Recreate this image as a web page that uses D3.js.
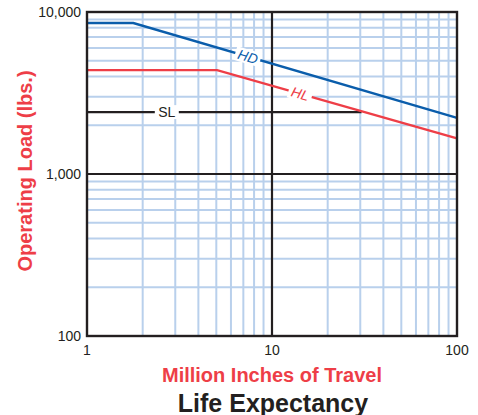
<!DOCTYPE html>
<html><head><meta charset="utf-8">
<script src="https://cdn.jsdelivr.net/npm/d3@7"></script>
<style>html,body{margin:0;padding:0;background:#fff;}svg{display:block;}</style>
</head><body>
<svg id="c" width="478" height="415"></svg>
<script>
const xTicks = [1, 10, 100];
const yTicks = [100, 1000, 10000];
const hdTravel = [1, 1.78, 100];
const hdLoad = [8550, 8550, 2220];
const hlTravel = [1, 5.05, 100];
const hlLoad = [4380, 4380, 1660];
const slTravel = [1, 30.5];
const slLoad = [2410, 2410];
const seriesNames = ["HD", "HL", "SL"];
const xTitle = "Million Inches of Travel";
const yTitle = "Operating Load (lbs.)";
const chartTitle = "Life Expectancy";

const svg = d3.select("#c");
const L = 87, R = 457, T = 12, B = 336;
const x = d3.scaleLog().domain([1, 100]).range([L, R]);
const y = d3.scaleLog().domain([100, 10000]).range([B, T]);
const font = "Helvetica, Arial, 'Liberation Sans', sans-serif";
const gridC = "#b9d0ec", blue = "#0a5dab", red = "#ee3e47", ink = "#231f20";

// minor grid
const minorX = [], minorY = [];
[1, 10].forEach(d => { for (let k = 2; k <= 9; k++) minorX.push(d * k); });
[100, 1000].forEach(d => { for (let k = 2; k <= 9; k++) minorY.push(d * k); });
svg.append("g").selectAll("line").data(minorX).join("line")
  .attr("x1", d => x(d)).attr("x2", d => x(d)).attr("y1", T).attr("y2", B)
  .attr("stroke", gridC).attr("stroke-width", 2);
svg.append("g").selectAll("line").data(minorY).join("line")
  .attr("x1", L).attr("x2", R).attr("y1", d => y(d)).attr("y2", d => y(d))
  .attr("stroke", gridC).attr("stroke-width", 2);
// major grid
svg.append("line").attr("x1", x(10)).attr("x2", x(10)).attr("y1", T).attr("y2", B)
  .attr("stroke", ink).attr("stroke-width", 2.2);
svg.append("line").attr("x1", L).attr("x2", R).attr("y1", y(1000)).attr("y2", y(1000))
  .attr("stroke", ink).attr("stroke-width", 2.2);

const line = d3.line().x(d => x(d[0])).y(d => y(d[1]));
const mk = (a, b) => a.map((v, i) => [v, b[i]]);
svg.append("path").attr("d", line(mk(slTravel, slLoad))).attr("fill", "none").attr("stroke", ink).attr("stroke-width", 2.2);
svg.append("path").attr("d", line(mk(hlTravel, hlLoad))).attr("fill", "none").attr("stroke", red).attr("stroke-width", 2.4);
svg.append("path").attr("d", line(mk(hdTravel, hdLoad))).attr("fill", "none").attr("stroke", blue).attr("stroke-width", 2.4);

// frame
svg.append("rect").attr("x", L).attr("y", T).attr("width", R - L).attr("height", B - T)
  .attr("fill", "none").attr("stroke", ink).attr("stroke-width", 2.4);

// series labels
function lab(txt, xv, tr, ld, col, italic, w) {
  const px = x(xv);
  let ang = 0, py = 0;
  for (let i = 0; i < tr.length - 1; i++) {
    if (xv >= tr[i] && xv <= tr[i + 1]) {
      ang = Math.atan2(y(ld[i + 1]) - y(ld[i]), x(tr[i + 1]) - x(tr[i])) * 180 / Math.PI;
      const f = (Math.log(xv) - Math.log(tr[i])) / (Math.log(tr[i + 1]) - Math.log(tr[i]));
      py = y(ld[i]) + f * (y(ld[i + 1]) - y(ld[i]));
    }
  }
  const g = svg.append("g").attr("transform", `translate(${px},${py}) rotate(${ang})`);
  g.append("rect").attr("x", -w / 2).attr("y", -7).attr("width", w).attr("height", 14).attr("fill", "#fff");
  g.append("text").attr("text-anchor", "middle").attr("dy", "0.36em")
    .attr("font-family", font).attr("font-size", 14).attr("font-style", italic ? "italic" : "normal")
    .attr("fill", col).text(txt);
}
lab(seriesNames[0], 7.4, hdTravel, hdLoad, blue, true, 26);
lab(seriesNames[1], 14.2, hlTravel, hlLoad, red, true, 24);
lab(seriesNames[2], 2.7, slTravel, slLoad, ink, false, 24);

// tick labels
svg.append("g").selectAll("text").data(yTicks).join("text")
  .attr("x", L - 6).attr("y", d => y(d)).attr("dy", "0.35em").attr("text-anchor", "end")
  .attr("font-family", font).attr("font-size", 14).attr("fill", ink)
  .text(d => d3.format(",")(d));
svg.append("g").selectAll("text").data(xTicks).join("text")
  .attr("x", d => x(d)).attr("y", B + 19).attr("text-anchor", "middle")
  .attr("font-family", font).attr("font-size", 14).attr("fill", ink)
  .text(d => d);

// axis titles
svg.append("text").attr("x", 272).attr("y", 382).attr("text-anchor", "middle")
  .attr("font-family", font).attr("font-size", 20).attr("font-weight", "bold").attr("fill", red).text(xTitle);
svg.append("text").attr("transform", `translate(32,171) rotate(-90)`).attr("text-anchor", "middle")
  .attr("font-family", font).attr("font-size", 20).attr("font-weight", "bold").attr("fill", red).text(yTitle);
svg.append("text").attr("x", 273).attr("y", 412).attr("text-anchor", "middle")
  .attr("font-family", font).attr("font-size", 25).attr("font-weight", "bold").attr("fill", ink).text(chartTitle);
</script>
</body></html>
